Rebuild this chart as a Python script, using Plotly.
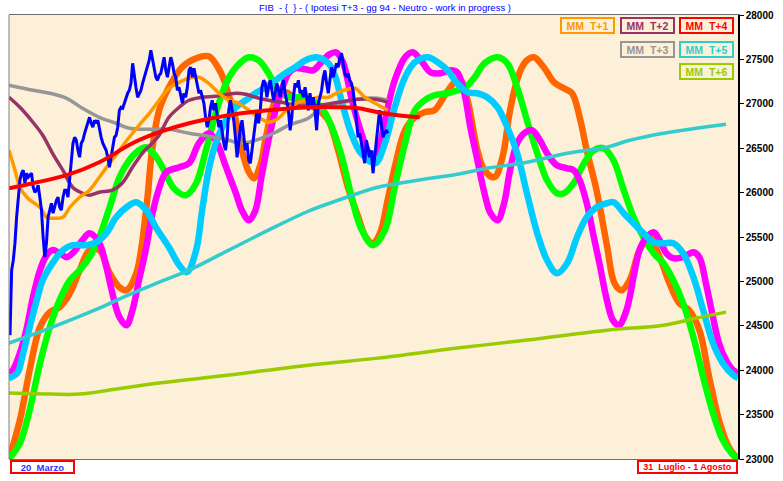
import numpy as np
import plotly.graph_objects as go

# ---------------- DATA (x = days from 20 Marzo, y = index points) ----------------
# FIB price (uniform sampling in time)
fib_start_day, fib_end_day = 0.18, 69.65
fib_values = [
    24395, 25126, 25239, 25430, 25723, 25948, 26139, 26218, 26252, 26106,
    26218, 26173, 26196, 26218, 26061, 26004, 26027, 26083, 25948, 25802,
    25498, 25273, 25430, 25723, 25802, 25880, 25768, 25835, 25914, 25948,
    25835, 25802, 25948, 26027, 26027, 25948, 26173, 26331, 26556, 26623,
    26589, 26477, 26398, 26556, 26589, 26668, 26736, 26792, 26848, 26781,
    26736, 26815, 26781, 26815, 26702, 26623, 26556, 26511, 26477, 26398,
    26286, 26398, 26511, 26623, 26646, 26736, 26927, 26961, 26950, 27006,
    27074, 27119, 27152, 27231, 27456, 27299, 27186, 27074, 27119, 27152,
    27231, 27299, 27344, 27411, 27490, 27603, 27490, 27411, 27299, 27265,
    27321,
    27344, 27456, 27524, 27377, 27299, 27411, 27524, 27456, 27344, 27299,
    27152, 27186, 27074, 27006, 27119, 27074, 27186, 27377, 27411, 27299,
    27400, 27299, 27231, 27119, 27152, 27074, 27006, 26848, 26736, 26815,
    26961, 27040, 26927, 27006, 26848, 26736, 26815, 26668, 26556, 26477,
    26623, 26927, 27040, 26927, 26815, 26623, 26398, 26556, 26736, 26815,
    26623, 26477, 26556, 26364, 26331, 26477, 26668, 26781, 26927, 26781,
    26927, 27186, 27265, 27231, 27074, 27186, 27265, 27152, 27040, 27119,
    27231, 27152, 27074, 27186, 27265, 27119, 27006, 26927, 26702, 26848,
    27074, 27231, 27186, 27265, 27119, 27152, 27074, 27186, 27074,
    26927, 27119, 26961, 27074, 26927, 26702, 27006, 27074, 27152, 27299,
    27377, 27231, 27119, 27265, 27411, 27299, 27377, 27456, 27411, 27524,
    27569, 27456, 27344, 27299, 27344, 27265, 27231, 27152, 27006, 26815,
    26623, 26668, 26556, 26443, 26331, 26589, 26511, 26398, 26477, 26218,
    26398, 26556, 26702, 26927, 26781, 26623, 26668, 26702, 26668,
]
fib_days = np.linspace(fib_start_day, fib_end_day, len(fib_values))

# MM T+1
mm1_days = [0, 1.1, 2.0, 3.3, 4.4, 5.7, 6.9, 8.0, 9.9, 11.2, 13.0, 14.8, 16.6, 18.5, 20.3,
            22.1, 23.9, 25.8, 27.6, 29.4, 31.3, 33.1, 34.9, 36.7, 38.6, 40.4, 42.2, 44.1,
            45.9, 47.7, 49.5, 51.4, 53.2, 55.0, 56.9, 58.7, 60.5, 62.3, 63.6, 65.4, 67.3, 69.6]
mm1_vals = [26477, 26252, 26061, 25948, 25892, 25835, 25723, 25712, 25723, 25835, 25948,
            26027, 26173, 26331, 26477, 26623, 26758, 26893, 27040, 27175, 27242, 27287,
            27299, 27231, 27119, 27040, 27006, 26927, 26848, 26792, 26837, 26950, 27017,
            27040, 27074, 27074, 27130, 27164, 27175, 27074, 27006, 26927]

# MM T+2
mm2_days = [0, 2.0, 4.4, 6.2, 8.0, 9.9, 11.7, 13.5, 14.8, 16.6, 19.0, 20.8, 22.7, 24.5, 26.3,
            27.6, 29.4, 31.3, 33.1, 35.5, 38.0, 41.7, 43.5, 45.3, 47.7, 50.1, 52.6, 55.0,
            56.9, 60.5, 64.2, 67.3, 69.6]
mm2_vals = [27074, 26961, 26792, 26646, 26443, 26252, 26061, 25993, 25971, 26004, 26027,
            26106, 26286, 26443, 26556, 26646, 26848, 26961, 27040, 27074, 27085, 27119,
            27107, 27074, 27040, 27017, 26983, 26972, 26983, 27017, 27051, 27051, 27017]

# MM T+3
mm3_days = [0, 4.4, 7.5, 10.6, 13.5, 16.6, 19.7, 22.1, 25.2, 29.4, 33.1, 36.7, 40.4, 42.2,
            44.1, 46.4, 49.0, 51.4, 55.0, 56.9, 59.2, 62.3, 65.4, 67.8, 69.6]
mm3_vals = [27209, 27152, 27119, 27062, 26950, 26848, 26781, 26724, 26713, 26713, 26668,
            26634, 26589, 26556, 26567, 26612, 26680, 26758, 26837, 26927, 26983, 27029,
            27062, 27062, 27040]

# MM T+4
mm4_days = [0, 4.4, 10.6, 16.6, 22.7, 27.6, 33.1, 40.4, 47.7, 55.0, 60.5, 64.2, 67.8, 71.5, 75.5]
mm4_vals = [26049, 26106, 26196, 26342, 26556, 26680, 26781, 26871, 26927, 26961, 26961,
            26950, 26905, 26871, 26848]

# MM T+5
mm5_days = [0, 7.5, 16.6, 22.7, 27.6, 33.1, 40.4, 47.7, 55.0, 60.5, 67.8, 75.1, 82.4, 87.9,
            95.2, 102.6, 109.9, 114.1, 120.3, 126.3, 131.8]
mm5_vals = [24305, 24474, 24699, 24868, 24991, 25126, 25352, 25577, 25790, 25914, 26061,
            26139, 26207, 26274, 26342, 26443, 26511, 26589, 26668, 26724, 26770]

# MM T+6
mm6_days = [0, 7.5, 13.0, 18.5, 27.6, 40.4, 55.0, 67.8, 82.4, 95.2, 109.9, 120.3, 126.3, 131.8]
mm6_vals = [23742, 23731, 23731, 23776, 23855, 23945, 24057, 24136, 24249, 24339, 24451,
            24507, 24586, 24654]

# Cycle projections (thick lines)
orange_days = [0, 2.0, 3.8, 5.7, 7.5, 9.3, 11.2, 13.0, 14.8, 16.6, 18.5, 20.3, 21.6, 23.4,
               25.2, 26.3, 27.6, 29.4, 31.8, 34.4, 36.7, 38.9, 40.4, 41.7, 42.8, 44.1, 45.0,
               46.2, 47.3, 49.0, 50.8, 52.6, 55.0, 56.9, 58.7, 60.5, 62.3, 64.2, 65.6, 66.9,
               68.2, 69.6, 70.9, 72.8, 74.6, 76.4, 78.2, 80.1, 81.9, 83.0, 84.3, 86.1, 87.4,
               89.2, 90.7, 92.1, 93.8, 95.2, 96.5, 98.3, 100.2, 102.0, 103.5, 104.9, 106.2,
               108.0, 109.9, 111.3, 112.6, 114.1, 115.9, 117.7, 119.6, 121.4, 123.2, 125.0,
               126.9, 128.7, 130.5, 132.3, 134.0]
orange_vals = [23000, 23438, 24001, 24485, 24654, 24710, 24868, 25126, 25352, 25352, 25093,
               24935, 24901, 25093, 25802, 26477, 26927, 27186, 27411, 27512, 27535, 27355,
               27096, 26815, 26477, 26229, 26162, 26308, 26646, 27040, 27130, 27062, 26995,
               26927, 26815, 26477, 26061, 25723, 25498, 25430, 25543, 25914, 26286, 26702,
               26848, 26905, 26927, 27096, 27242, 27265, 27040, 26477, 26252, 26173, 26398,
               26927, 27344, 27490, 27524, 27411, 27242, 27175, 27119, 26848, 26477, 26027,
               25408, 24980, 24901, 25014, 25352, 25498, 25273, 24980, 24755, 24676, 24451,
               23922, 23438, 23134, 23000]

green_days = [0, 2.0, 3.8, 5.7, 7.5, 9.3, 11.2, 13.0, 14.8, 16.6, 18.5, 20.3, 22.1, 23.9,
              25.2, 27.1, 28.5, 30.3, 32.5, 34.4, 36.2, 38.0, 39.9, 41.7, 44.1, 45.9, 47.7,
              49.5, 51.4, 53.7, 55.6, 57.4, 59.2, 61.1, 62.9, 64.7, 66.9, 69.1, 70.9, 72.8,
              74.6, 76.4, 78.2, 80.6, 82.4, 83.7, 85.6, 87.4, 89.8, 91.6, 93.4, 95.2, 97.1,
              98.9, 100.7, 102.0, 103.8, 105.7, 107.5, 109.3, 111.1, 113.0, 114.8, 116.6,
              118.5, 120.3, 122.1, 123.9, 125.8, 127.6, 129.4, 131.2, 133.1, 134.0]
green_vals = [23000, 23180, 23551, 24080, 24485, 24789, 25014, 25126, 25273, 25498, 25835,
              26173, 26364, 26477, 26511, 26398, 26252, 26049, 25971, 26106, 26477, 26893,
              27231, 27411, 27524, 27490, 27344, 27152, 27074, 27074, 27040, 26961, 26758,
              26421, 25971, 25599, 25408, 25577, 26061, 26556, 26927, 27040, 27096, 27119,
              27152, 27175, 27299, 27456, 27524, 27456, 27186, 26815, 26443, 26139, 25993,
              25993, 26106, 26331, 26477, 26499, 26364, 26027, 25723, 25498, 25318, 25205,
              25014, 24755, 24372, 23922, 23517, 23213, 23044, 23000]

magenta_days = [0, 0.7, 2.0, 3.3, 4.4, 5.7, 6.9, 8.0, 9.3, 10.6, 11.7, 13.5, 14.8, 16.6,
                17.9, 19.0, 20.3, 21.6, 22.7, 23.9, 25.2, 26.3, 27.6, 28.9, 31.3, 33.1, 34.9,
                36.7, 38.0, 39.9, 41.7, 42.8, 44.1, 45.3, 46.4, 47.7, 49.0, 50.1, 51.4, 52.6,
                54.5, 55.9, 57.4, 58.9, 60.1, 61.4, 62.9, 64.2, 65.4, 66.5, 67.8, 69.1, 70.9,
                72.8, 74.2, 75.7, 77.5, 79.3, 81.2, 82.4, 83.7, 84.8, 86.1, 87.4, 88.5, 89.8,
                91.0, 92.1, 93.4, 94.7, 96.2, 97.6, 98.9, 100.7, 102.6, 103.8, 104.9, 106.2,
                107.5, 108.6, 109.9, 111.0, 112.1, 113.5, 114.8, 115.9, 117.2, 118.5, 119.6,
                120.8, 122.1, 123.9, 125.8, 126.9, 128.1, 129.4, 130.5, 131.8, 133.1, 134.0]
magenta_vals = [23967, 24001, 24192, 24485, 24823, 25126, 25295, 25352, 25318, 25273, 25318,
                25464, 25543, 25430, 25160, 24868, 24598, 24507, 24676, 25014, 25374, 25745,
                26049, 26229, 26286, 26331, 26556, 26668, 26589, 26286, 25993, 25802, 25689,
                25802, 26173, 26589, 26927, 27152, 27344, 27400, 27388, 27377, 27467, 27557,
                27580, 27467, 27074, 26781, 26556, 26421, 26477, 26815, 27265, 27524, 27580,
                27490, 27355, 27344, 27377, 27355, 27119, 26736, 26364, 25993, 25768, 25689,
                25880, 26252, 26556, 26668, 26702, 26589, 26443, 26308, 26274, 26252, 26139,
                25880, 25498, 25183, 24789, 24564, 24507, 24676, 25048, 25352, 25498, 25554,
                25464, 25318, 25261, 25273, 25329, 25273, 24980, 24598, 24305, 24114, 24001,
                23967]

cyan_days = [0, 1.5, 2.6, 3.8, 5.1, 6.2, 8.0, 9.9, 11.7, 14.3, 16.1, 17.9, 19.7, 21.6, 23.4,
             25.2, 27.1, 29.4, 31.3, 32.7, 34.4, 35.5, 36.7, 38.0, 39.9, 41.7, 43.5, 45.3,
             47.2, 49.0, 50.8, 52.6, 54.5, 56.5, 58.7, 60.0, 61.1, 62.9, 64.7, 67.3, 69.1,
             70.9, 72.8, 74.6, 77.0, 78.8, 80.6, 82.4, 84.3, 86.1, 87.9, 89.8, 91.6, 93.4,
             95.2, 97.1, 98.9, 100.7, 102.6, 104.4, 106.2, 108.0, 109.9, 111.1, 113.0, 114.8,
             116.6, 118.5, 120.3, 122.1, 123.9, 125.8, 127.6, 129.4, 131.2, 133.1, 134.0]
cyan_vals = [23911, 23967, 24192, 24485, 24789, 25014, 25205, 25352, 25408, 25408, 25442,
             25543, 25723, 25835, 25892, 25802, 25599, 25385, 25183, 25104, 25352, 25802,
             26252, 26556, 26815, 26961, 27040, 27119, 27186, 27265, 27344, 27411, 27490,
             27524, 27456, 27299, 27040, 26668, 26443, 26331, 26556, 26961, 27299, 27467,
             27524, 27467, 27377, 27231, 27130, 27119, 27074, 26961, 26736, 26443, 25993,
             25543, 25239, 25093, 25205, 25498, 25723, 25835, 25880, 25892, 25768, 25655,
             25543, 25442, 25430, 25430, 25318, 25048, 24676, 24305, 24080, 23945, 23911]

y_ticks = [23000, 23500, 24000, 24500, 25000, 25500, 26000, 26500, 27000, 27500, 28000]

title_text = "FIB  - {  } - ( Ipotesi T+3 - gg 94 - Neutro - work in progress )"
start_label = "20  Marzo"
end_label = "31  Luglio - 1 Agosto"

# ---------------- FIGURE ----------------
FONT = "Liberation Sans, Arial, sans-serif"
fig = go.Figure()

def add(x, y, color, width, shape="spline"):
    fig.add_trace(go.Scatter(x=x, y=y, mode="lines", hoverinfo="skip",
                             line=dict(color=color, width=width, shape=shape, smoothing=1.0)))

add(orange_days, orange_vals, "#FF6600", 6.5)
add(green_days, green_vals, "#00FF00", 6.5)
add(magenta_days, magenta_vals, "#FF00FF", 6.5)
add(cyan_days, cyan_vals, "#00CCFF", 6.5)
add(mm5_days, mm5_vals, "#33CCCC", 3.5)
add(mm6_days, mm6_vals, "#99CC00", 3.5)
add(mm3_days, mm3_vals, "#969696", 3.5)
add(mm2_days, mm2_vals, "#993366", 3.5)
add(mm1_days, mm1_vals, "#FF9900", 3.5)
add(fib_days, fib_values, "#0000FF", 3, shape="linear")
add(mm4_days, mm4_vals, "#FF0000", 4)

fig.update_layout(
    width=783, height=481,
    margin=dict(l=9, r=41, t=15, b=22),
    paper_bgcolor="white",
    plot_bgcolor="#FCF0D8",
    showlegend=False,
    xaxis=dict(range=[0, 134], showticklabels=False, ticks="", showgrid=False,
               zeroline=False, showline=True, linecolor="#707070", linewidth=1, mirror=True),
    yaxis=dict(range=[23000, 28000], side="right", tickvals=y_ticks, tickformat="d",
               ticks="outside", ticklen=4, tickcolor="black", showgrid=False, zeroline=False,
               showline=True, linecolor="black", linewidth=1.5,
               tickfont=dict(family=FONT, size=10, color="black", weight="bold")),
)

# left border in gray
fig.add_shape(type="line", xref="paper", yref="paper", x0=0, x1=0, y0=0, y1=1,
              line=dict(color="#808080", width=1))

# title
fig.add_annotation(text=title_text, xref="paper", yref="paper", x=0.5157, y=1.0,
                   yanchor="bottom", showarrow=False,
                   font=dict(family=FONT, size=9.5, color="#0000FF"))

# legend boxes
legend = [
    ("MM  T+1", "#FF9900", "#FF9900", 0.7933, 0.9757),
    ("MM  T+2", "#993366", "#993366", 0.8759, 0.9757),
    ("MM  T+4", "#FF0000", "#FF0000", 0.9563, 0.9757),
    ("MM  T+3", "#969696", "#969696", 0.8759, 0.9228),
    ("MM  T+5", "#33CCCC", "#33CCCC", 0.9563, 0.9228),
    ("MM  T+6", "#99CC00", "#99CC00", 0.9563, 0.8733),
]
for txt, tc, bc, x, y in legend:
    fig.add_annotation(text=txt, xref="paper", yref="paper", x=x, y=y, showarrow=False,
                       xanchor="center", yanchor="middle", width=51, height=13,
                       bordercolor=bc, borderwidth=2, borderpad=0,
                       font=dict(family=FONT, size=10.5, color=tc, weight="bold"))

# date boxes
fig.add_annotation(text=start_label, xref="paper", yref="paper", x=0.0457, y=-0.018,
                   showarrow=False, xanchor="center", yanchor="middle", width=61, height=10,
                   bordercolor="#FF0000", borderwidth=2, borderpad=0, bgcolor="white",
                   font=dict(family=FONT, size=9.5, color="#3333FF", weight="bold"))
fig.add_annotation(text=end_label, xref="paper", yref="paper", x=0.9311, y=-0.018,
                   showarrow=False, xanchor="center", yanchor="middle", width=97, height=10,
                   bordercolor="#FF0000", borderwidth=2, borderpad=0, bgcolor="white",
                   font=dict(family=FONT, size=9, color="#FF0000", weight="bold"))

fig.write_html("out.html", config={"displayModeBar": False},
               post_script="document.body.style.margin='0';document.body.style.padding='0';")
